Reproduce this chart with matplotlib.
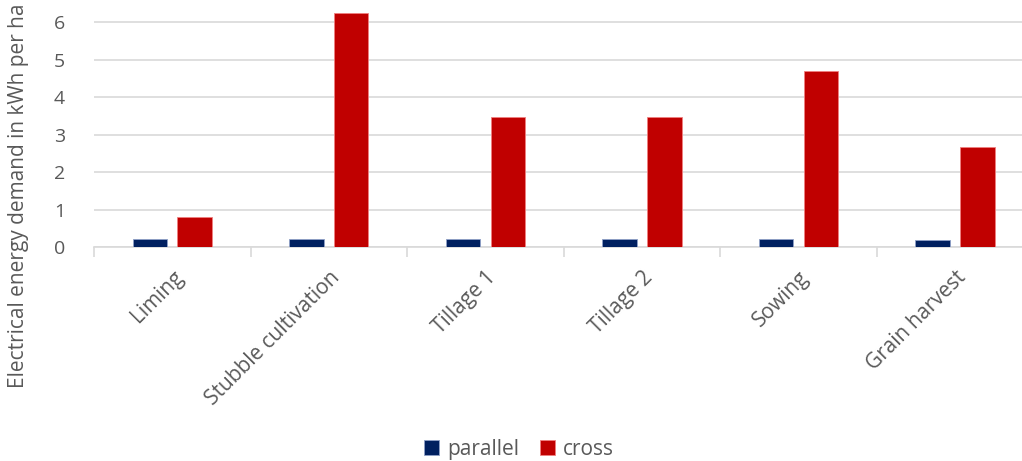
import numpy as np
from matplotlib import pyplot as plt

categories = ['Liming', 'Stubble cultivation', 'Tillage 1', 'Tillage 2', 'Sowing', 'Grain harvest']
parallel = [0.21, 0.22, 0.21, 0.21, 0.21, 0.19]
cross = [0.80, 6.24, 3.47, 3.47, 4.70, 2.66]

plt.rcParams['font.family'] = ['Open Sans', 'DejaVu Sans']

fig = plt.figure(figsize=(10.22, 4.61), dpi=100)
ax = fig.add_axes([0.092, 0.4636, 0.919, 0.5364])

x = np.arange(len(categories))
w = 0.22
ax.bar(x - 0.143, parallel, w, color='#002060', edgecolor='#8fa0c8', linewidth=0.6, label='parallel', zorder=3)
ax.bar(x + 0.143, cross, w, color='#c00000', edgecolor='#f08080', linewidth=0.6, label='cross', zorder=3)

ax.set_xlim(-0.5, 5.5)
ax.set_ylim(0, 6.59)
ax.set_yticks(range(0, 7))
ax.yaxis.grid(True, color='#d9d9d9', linewidth=1.2, zorder=0)
ax.tick_params(axis='y', length=0, labelsize=14, labelcolor='#595959', pad=21)

ax.set_xticks(x)
ax.set_xticklabels(categories, rotation=45, ha='right', rotation_mode='anchor')
ax.set_xticks(np.arange(-0.5, 6.0, 1), minor=True)
ax.tick_params(axis='x', which='major', length=0, labelsize=15, labelcolor='#595959', pad=14)
ax.tick_params(axis='x', which='minor', length=7, color='#d9d9d9', width=1.2)

for s in ['top', 'right', 'left']:
    ax.spines[s].set_visible(False)
ax.spines['bottom'].set_color('#d9d9d9')
ax.spines['bottom'].set_linewidth(1.2)

ax.set_ylabel('Electrical energy demand in kWh per ha', fontsize=15, color='#595959')
ax.yaxis.set_label_coords(-0.069, 0.21)

fig.legend(loc='center', bbox_to_anchor=(0.508, 0.025), ncol=2, frameon=False, fontsize=15,
           handlelength=0.7, handleheight=0.7, handletextpad=0.4, columnspacing=1.0,
           labelcolor='#595959')

plt.savefig('out.png')
